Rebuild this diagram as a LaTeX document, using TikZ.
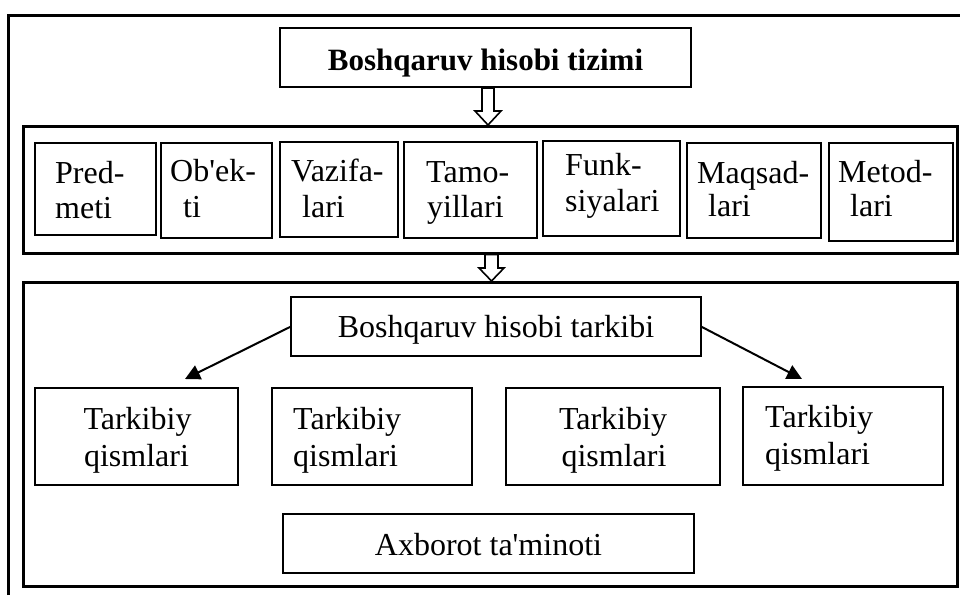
\documentclass[tikz,border=0pt]{standalone}
\usepackage{fontspec}
\setmainfont{Liberation Serif}[Ligatures=TeXOff]
\usetikzlibrary{arrows.meta,calc}
\begin{document}
\begin{tikzpicture}[x=1pt,y=-1pt,
  frame/.style={draw,line width=3pt},
  bigbox/.style={draw,line width=3pt,inner sep=0pt,outer sep=0pt},
  box/.style={draw,line width=1.8pt,inner sep=0pt,outer sep=0pt},
  txt/.style={inner sep=0pt,anchor=base west,font=\fontsize{32}{36}\selectfont},
  ctxt/.style={inner sep=0pt,anchor=base,font=\fontsize{32}{36}\selectfont},
  hollow/.style={draw,line width=1.6pt,fill=white,line join=miter},
  link/.style={draw,line width=2pt,-{Triangle[length=15pt,width=15pt]}}]
\useasboundingbox (0,0) rectangle (960,595);

% outer frame (left and top sides visible)
\draw[frame] (8,595) -- (8,15) -- (960,15);

% title
\node[box,minimum width=411pt,minimum height=59pt] (title) at (485.5,57.5) {};
\node[ctxt,font=\bfseries\fontsize{31}{36}\selectfont] (titletxt) at (485.5,70) {Boshqaruv hisobi tizimi};

% row of characteristics
\node[bigbox,minimum width=934pt,minimum height=127pt] (row) at (490,189.5) {};
\node[box,minimum width=121pt,minimum height=92pt] (p1) at (95.5,189) {};
\node[box,minimum width=111pt,minimum height=95pt] (p2) at (216.5,190.5) {};
\node[box,minimum width=118pt,minimum height=95pt] (p3) at (339,189.5) {};
\node[box,minimum width=133pt,minimum height=96pt] (p4) at (470.5,190) {};
\node[box,minimum width=137pt,minimum height=95pt] (p5) at (611.5,188.5) {};
\node[box,minimum width=134pt,minimum height=95pt] (p6) at (754,190.5) {};
\node[box,minimum width=124pt,minimum height=98pt] (p7) at (891,192) {};

\node[txt] (p1a) at (55,183) {Pred-};
\node[txt] (p1b) at (55,218) {meti};
\node[txt] (p2a) at (170,181) {Ob'ek-};
\node[txt] (p2b) at (183,217) {ti};
\node[txt] (p3a) at (291,181) {Vazifa-};
\node[txt] (p3b) at (302,217) {lari};
\node[txt] (p4a) at (426,182) {Tamo-};
\node[txt] (p4b) at (427,217) {yillari};
\node[txt] (p5a) at (565,175) {Funk-};
\node[txt] (p5b) at (565,211) {siyalari};
\node[txt] (p6a) at (697,183) {Maqsad-};
\node[txt] (p6b) at (708,216) {lari};
\node[txt] (p7a) at (838,182) {Metod-};
\node[txt] (p7b) at (850,216) {lari};

% composition block
\node[bigbox,minimum width=934pt,minimum height=304pt] (bottom) at (490,434) {};
\node[box,minimum width=410pt,minimum height=59pt] (tark) at (496,326.5) {};
\node[ctxt] (tarktxt) at (496,337) {Boshqaruv hisobi tarkibi};

\node[box,minimum width=203pt,minimum height=97pt] (t1) at (136.5,436.5) {};
\node[box,minimum width=200pt,minimum height=97pt] (t2) at (372,436.5) {};
\node[box,minimum width=214pt,minimum height=97pt] (t3) at (613,436.5) {};
\node[box,minimum width=200pt,minimum height=98pt] (t4) at (843,436) {};

\node[ctxt] (t1a) at (137.5,429) {Tarkibiy};
\node[ctxt] (t1b) at (136.5,466) {qismlari};
\node[txt] (t2a) at (293,429) {Tarkibiy};
\node[txt] (t2b) at (293,466) {qismlari};
\node[ctxt] (t3a) at (613,429) {Tarkibiy};
\node[ctxt] (t3b) at (614,466) {qismlari};
\node[txt] (t4a) at (765,427) {Tarkibiy};
\node[txt] (t4b) at (765,464) {qismlari};

\node[box,minimum width=411pt,minimum height=59pt] (ax) at (488.5,543.5) {};
\node[ctxt] (axtxt) at (488.5,555) {Axborot ta'minoti};

% hollow block arrows
\draw[hollow] ($(title.south)+(-3.5,1)$) -- ($(title.south)+(-3.5,24)$) -- ($(title.south)+(-10.5,24)$)
  -- ($(row.north)+(-2,-1)$) -- ($(title.south)+(15.5,24)$) -- ($(title.south)+(8.5,24)$)
  -- ($(title.south)+(8.5,1)$) -- cycle;
\draw[hollow] ($(row.south)+(-5,1.5)$) -- ($(row.south)+(-5,15)$) -- ($(row.south)+(-11,15)$)
  -- ($(bottom.north)+(1.5,-1)$) -- ($(row.south)+(14,15)$) -- ($(row.south)+(8,15)$)
  -- ($(row.south)+(8,1.5)$) -- cycle;

% diagonal arrows
\coordinate (e1) at (185,379);
\coordinate (e2) at (802,379);
\draw[link] (tark.west) -- (e1);
\draw[link] (tark.east) -- (e2);
\end{tikzpicture}
\end{document}
